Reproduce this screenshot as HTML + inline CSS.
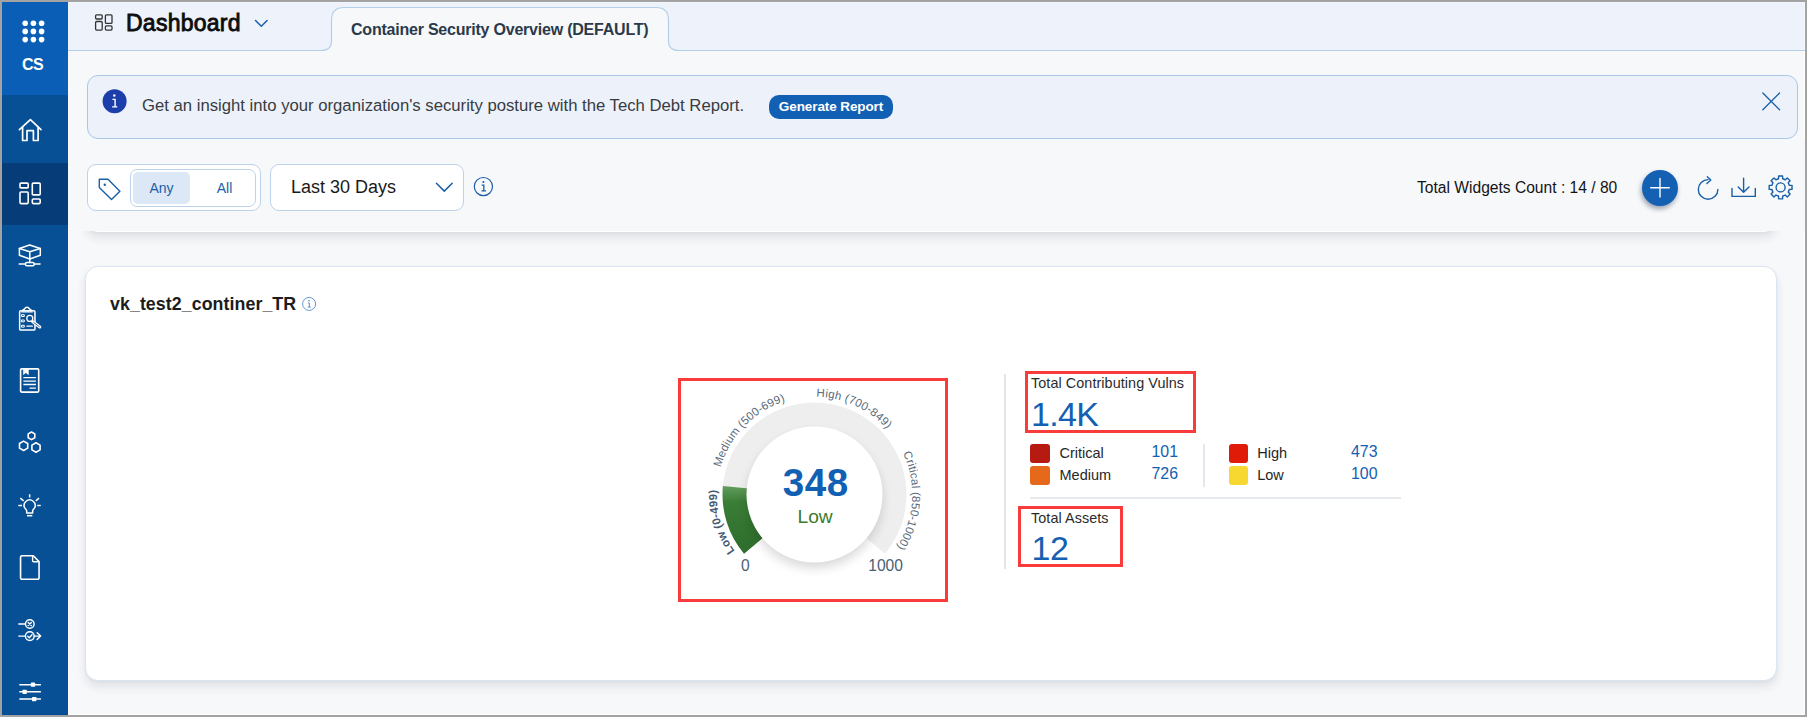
<!DOCTYPE html>
<html lang="en">
<head>
<meta charset="utf-8">
<title>Dashboard - Container Security Overview</title>
<style>
*{box-sizing:border-box;margin:0;padding:0}
html,body{width:1807px;height:717px;overflow:hidden;background:#a3a3a3;font-family:"Liberation Sans",Arial,sans-serif;}
#app{position:absolute;left:2px;top:2px;width:1803px;height:713px;background:#f7f8fa;overflow:hidden;box-shadow:inset -1px -1px 0 #fff}
.abs{position:absolute}
/* sidebar */
#side{position:absolute;left:0;top:0;width:66px;height:713px;background:#075096;box-shadow:inset 1px -1px 0 #034994}
#side .logo{position:absolute;left:0;top:0;width:66px;height:93px;background:#0b5eb5}
#side .active{position:absolute;left:0;top:161px;width:66px;height:62px;background:#063c78}
#side svg{position:absolute;overflow:visible}
#side .cs{position:absolute;left:0;width:61px;top:52.700px;text-align:center;color:#fff;font-weight:bold;font-size:16px;line-height:20px;letter-spacing:-.6px}
/* header */
#head{position:absolute;left:66px;top:0;width:1737px;height:49px;background:#edf2fb;box-shadow:inset 0 1px 0 #f2f7ff,inset -1px 0 0 #f6faff}
#title{position:absolute;left:124px;top:6px;font-size:23px;font-weight:normal;-webkit-text-stroke:.85px #0d0d0d;color:#0d0d0d;line-height:30px;white-space:nowrap;letter-spacing:.25px}
#tabtxt{position:absolute;left:349px;top:16.600px;font-size:16px;font-weight:bold;color:#2b3a4a;white-space:nowrap;line-height:22px;letter-spacing:-.22px}
/* banner */
#banner{position:absolute;left:85px;top:73px;width:1711px;height:64px;background:#edf2fa;border:1px solid #a9c7e8;border-radius:11px}
#banner .txt{position:absolute;left:54px;top:19.4px;font-size:16.7px;color:#383c42;white-space:nowrap;line-height:22px}
#gen{position:absolute;left:767px;top:93px;width:124px;height:24px;background:#1260b4;border-radius:10px;color:#fff;font-size:13.5px;font-weight:bold;text-align:center;line-height:24.500px;letter-spacing:-.1px;white-space:nowrap}
/* toolbar */
.box{position:absolute;background:#fff;border:1px solid #bcd3eb;border-radius:9px}
#tw{position:absolute;left:1415px;top:176px;font-size:15.6px;color:#141414;white-space:nowrap;line-height:20px}
#plus{position:absolute;left:1640px;top:168px;width:36px;height:36px;border-radius:50%;background:#1460b2;box-shadow:-1px 3px 5px rgba(0,25,60,.38)}
/* cards */
.card{position:absolute;background:#fff;border:1px solid #d9e5f3;border-radius:13px;box-shadow:0 6px 10px rgba(30,40,60,.10),0 1px 3px rgba(30,40,60,.04)}
#wtitle{position:absolute;left:108px;top:290px;font-size:17.8px;letter-spacing:.07px;font-weight:bold;color:#1c1c1c;white-space:nowrap;line-height:24px}
.lbl{position:absolute;font-size:14.4px;letter-spacing:.07px;color:#2b2b2b;white-space:nowrap;line-height:16px}
.big{position:absolute;font-size:34px;color:#1460b2;white-space:nowrap;line-height:36px}
.sw{position:absolute;width:20px;height:19px;border-radius:3px}
.sl{position:absolute;font-size:14.5px;color:#262626;white-space:nowrap;line-height:18px}
.sv{position:absolute;font-size:15.9px;color:#1460b2;white-space:nowrap;line-height:18px;text-align:right;width:40px}
.red{position:absolute;border:3px solid #fa3b3c}
</style>
</head>
<body>
<div id="app">

<!-- header -->
<div id="head"></div>
<svg class="abs" style="left:66px;top:0" width="1737" height="52" viewBox="68 2 1737 52" fill="none">
  <path d="M321 50.500 Q331.500 50.500 331.500 41 V20 Q331.500 7.500 344 7.500 H656 Q668.500 7.500 668.500 20 V41 Q668.500 50.500 679 50.500 V52 H321 Z" fill="#f7f8fa" stroke="none"/>
  <path d="M68 50.500 H321 Q331.500 50.500 331.500 41 V20 Q331.500 7.500 344 7.500 H656 Q668.500 7.500 668.500 20 V41 Q668.500 50.500 679 50.500 H1805" stroke="#b4cfea" stroke-width="1.200"/>
  <!-- dashboard glyph -->
  <g stroke="#333" stroke-width="1.300">
    <rect x="95.600" y="14.800" width="6.600" height="4.200" rx="1"/><rect x="95.600" y="21.500" width="6.600" height="8.600" rx="1"/>
    <rect x="105.400" y="14.800" width="6.600" height="8.600" rx="1"/><rect x="105.400" y="25.900" width="6.600" height="4.200" rx="1"/>
  </g>
  <path d="M255.500 20.500 L261.300 26.300 L267.100 20.500" stroke="#1a5fa8" stroke-width="1.500" stroke-linecap="round" stroke-linejoin="round"/>
</svg>
<div id="tabtxt">Container Security Overview (DEFAULT)</div>
<div id="title">Dashboard</div>

<!-- banner -->
<div id="banner"><div class="txt">Get an insight into your organization's security posture with the Tech Debt Report.</div></div>
<div id="gen">Generate Report</div>

<!-- cards -->
<div class="card" style="left:83px;top:180px;width:1692px;height:50px;border-color:#fff"></div>
<div class="abs" style="left:66px;top:138px;width:1737px;height:91px;background:#f7f8fa"></div>
<div class="card" style="left:83px;top:264px;width:1692px;height:415px"></div>
<div id="wtitle">vk_test2_continer_TR</div>
<svg class="abs" style="left:299px;top:294px" width="16" height="16" viewBox="0 0 16 16" fill="none" stroke="#4a86c5" stroke-width=".850"><circle cx="8.100" cy="7.900" r="6.500"/><path d="M6.900 7 H8.300 V11 M6.700 11.100 H9.900" stroke-width=".900"/><circle cx="8" cy="4.700" r=".800" fill="#3f7fc0" stroke="none"/></svg>


<!-- gauge -->
<svg class="abs" style="left:676px;top:376px" width="280" height="230" viewBox="678 378 280 230" font-family="Liberation Sans, Arial, sans-serif">
  <defs>
    <path id="gc" d="M814.50 592.30 A97.8 97.8 0 0 1 814.50 396.70 A97.8 97.8 0 0 1 814.50 592.30"/>
    <linearGradient id="gg" gradientUnits="userSpaceOnUse" x1="0" y1="483" x2="0" y2="552"><stop offset="0" stop-color="#6aa364"/><stop offset=".28" stop-color="#3a7d36"/><stop offset="1" stop-color="#2e6d2c"/></linearGradient>
    <filter id="gs" x="-30%" y="-30%" width="160%" height="160%"><feGaussianBlur stdDeviation="6"/></filter>
  </defs>
  <path d="M744.02 553.64 A92.0 92.0 0 1 1 884.98 553.64 L865.06 536.92 A66.0 66.0 0 1 0 763.94 536.92 Z" fill="#eeeeee"/>
  <path d="M744.02 553.64 A92.0 92.0 0 0 1 722.89 486.00 L748.78 488.40 A66.0 66.0 0 0 0 763.94 536.92 Z" fill="url(#gg)"/>
  <circle cx="814.5" cy="500.5" r="67.0" fill="#000" opacity=".16" filter="url(#gs)"/>
  <circle cx="814.5" cy="494.5" r="68.0" fill="#fff"/>
  <text style="font-size:11.5px;font-weight:bold;fill:#455a72"><textPath href="#gc" startOffset="93.0" textLength="64.9" lengthAdjust="spacing">Low (0-499)</textPath></text>
  <text style="font-size:11.5px;fill:#5b6b7b"><textPath href="#gc" startOffset="180.6" textLength="96.3" lengthAdjust="spacing">Medium (500-699)</textPath></text>
  <text style="font-size:11.5px;fill:#5b6b7b"><textPath href="#gc" startOffset="308.6" textLength="79.9" lengthAdjust="spacing">High (700-849)</textPath></text>
  <text style="font-size:11.5px;fill:#5b6b7b"><textPath href="#gc" startOffset="417.2" textLength="98.3" lengthAdjust="spacing">Critical (850-1000)</textPath></text>
  <text x="815.7" y="495.6" text-anchor="middle" style="font-size:38.6px;font-weight:bold;fill:#1260b4;letter-spacing:.5px">348</text>
  <text x="815.1" y="522.8" text-anchor="middle" style="font-size:19.2px;fill:#3c7a2b">Low</text>
  <text x="745.4" y="571.2" text-anchor="middle" style="font-size:15.6px;fill:#4a5f75">0</text>
  <text x="885.6" y="571.2" text-anchor="middle" style="font-size:15.6px;fill:#4a5f75">1000</text>
</svg>
<div class="red" style="left:676px;top:376px;width:270px;height:224px"></div>

<!-- stats -->
<div class="abs" style="left:1002.300px;top:372px;width:2px;height:195px;background:#e0e6ea"></div>
<div class="lbl" style="left:1029px;top:373px">Total Contributing Vulns</div>
<div class="big" style="left:1029px;top:394px;letter-spacing:-.7px">1.4K</div>
<div class="red" style="left:1023px;top:369px;width:171px;height:62px"></div>
<div class="sw" style="left:1028px;top:442px;background:#b71a10"></div>
<div class="sw" style="left:1028px;top:464px;background:#e6691b"></div>
<div class="sw" style="left:1227px;top:442px;width:19px;background:#e01c08"></div>
<div class="sw" style="left:1227px;top:464px;width:19px;background:#f6d831"></div>
<div class="sl" style="left:1057.500px;top:442px">Critical</div>
<div class="sl" style="left:1057.500px;top:464px">Medium</div>
<div class="sl" style="left:1255.200px;top:442px">High</div>
<div class="sl" style="left:1255.200px;top:464px">Low</div>
<div class="sv" style="left:1136px;top:440.600px">101</div>
<div class="sv" style="left:1136px;top:462.600px">726</div>
<div class="sv" style="left:1335.500px;top:440.600px">473</div>
<div class="sv" style="left:1335.500px;top:462.600px">100</div>
<div class="abs" style="left:1201.300px;top:442px;width:2px;height:43px;background:#e2e8ed"></div>
<div class="abs" style="left:1028px;top:495.300px;width:371px;height:1.600px;background:#e6eaee"></div>
<div class="lbl" style="left:1029px;top:508px">Total Assets</div>
<div class="big" style="left:1029.500px;top:528.200px;letter-spacing:-.5px">12</div>
<div class="red" style="left:1016px;top:504px;width:105px;height:61px"></div>

<!-- toolbar -->
<div class="box" style="left:85px;top:162px;width:174px;height:47px"></div>
<div class="box" style="left:128px;top:167px;width:126px;height:38px;border-radius:7px"></div>
<div class="abs" style="left:131px;top:170px;width:57px;height:32px;background:#dce8f5;border-radius:5px"></div>
<div class="abs" style="left:131px;top:170px;width:57px;height:32px;line-height:32px;text-align:center;font-size:14px;color:#1a5fa8">Any</div>
<div class="abs" style="left:194px;top:170px;width:57px;height:32px;line-height:32px;text-align:center;font-size:14px;color:#1a5fa8">All</div>
<div class="box" style="left:268px;top:162px;width:194px;height:47px"></div>
<div class="abs" style="left:289px;top:173px;font-size:18px;line-height:24px;color:#1a1a1a;white-space:nowrap">Last 30 Days</div>
<div id="tw">Total Widgets Count : 14 / 80</div>
<div id="plus"></div>


<!-- icons overlay -->
<svg class="abs" style="left:0;top:0" width="1803" height="240" viewBox="2 2 1803 240" fill="none" stroke="#1a5fa8" stroke-linecap="round" stroke-linejoin="round">
  <!-- banner info -->
  <circle cx="114.600" cy="101.300" r="12" fill="#1b3eaa" stroke="none"/>
  <path d="M112.400 99.400 H115.100 V106.700 M112.100 106.900 H117.300" stroke="#fff" stroke-width="1.400" stroke-linecap="butt" stroke-linejoin="miter"/>
  <circle cx="114.300" cy="95.600" r="1.250" fill="#fff" stroke="none"/>
  <!-- close -->
  <path d="M1762.800 93 L1779.600 109.800 M1779.600 93 L1762.800 109.800" stroke-width="1.300"/>
  <!-- tag -->
  <path d="M99.300 179.300 H108 L119.900 191.200 L111.500 199.600 L99.300 187.500 Z" stroke-width="1.400"/>
  <circle cx="104.800" cy="184.800" r="1.200" fill="#1a5fa8" stroke="none"/>
  <!-- select chevron -->
  <path d="M436.400 183.200 L444.300 191.100 L452.200 183.200" stroke-width="1.500"/>
  <!-- info -->
  <circle cx="483.400" cy="186.600" r="9.100" stroke-width="1.200"/>
  <path d="M481.700 185.200 H483.800 V190.700 M481.500 190.900 H486" stroke-width="1.300" stroke-linecap="butt" stroke-linejoin="miter"/>
  <circle cx="483.400" cy="182" r="1.050" fill="#1a5fa8" stroke="none"/>
  <!-- refresh -->
  <path d="M1708.100 179.600 A9.800 9.800 0 1 0 1717.900 189.400" stroke-width="1.400"/>
  <path d="M1707.300 176.700 L1710.800 180.100 L1706.900 183.600" stroke-width="1.400"/>
  <!-- download -->
  <path d="M1743.600 178.200 V192 M1738.200 186.900 L1743.600 192.300 L1749 186.900" stroke-width="1.400"/>
  <path d="M1732 188.500 V196.400 H1755.300 V188.500" stroke-width="1.400" stroke-linejoin="miter"/>
  <!-- gear -->
  <path d="M1778.52 178.75 L1778.61 175.97 L1782.59 175.97 L1782.68 178.75 A8.90 8.90 0 0 1 1785.25 179.81 L1785.25 179.81 L1787.27 177.91 L1790.09 180.73 L1788.19 182.75 A8.90 8.90 0 0 1 1789.25 185.32 L1789.25 185.32 L1792.03 185.41 L1792.03 189.39 L1789.25 189.48 A8.90 8.90 0 0 1 1788.19 192.05 L1788.19 192.05 L1790.09 194.07 L1787.27 196.89 L1785.25 194.99 A8.90 8.90 0 0 1 1782.68 196.05 L1782.68 196.05 L1782.59 198.83 L1778.61 198.83 L1778.52 196.05 A8.90 8.90 0 0 1 1775.95 194.99 L1775.95 194.99 L1773.93 196.89 L1771.11 194.07 L1773.01 192.05 A8.90 8.90 0 0 1 1771.95 189.48 L1771.95 189.48 L1769.17 189.39 L1769.17 185.41 L1771.95 185.32 A8.90 8.90 0 0 1 1773.01 182.75 L1773.01 182.75 L1771.11 180.73 L1773.93 177.91 L1775.95 179.81 A8.90 8.90 0 0 1 1778.52 178.75 Z" stroke-width="1.400"/>
  <circle cx="1780.600" cy="187.400" r="4.500" stroke-width="1.400"/>
</svg>
<svg class="abs" style="left:1640px;top:168px" width="36" height="36" viewBox="0 0 36 36" fill="none" stroke="#fff" stroke-width="1.400" stroke-linecap="round"><path d="M8.700 17.800 H27.300 M18 8.500 V27.100"/></svg>

<!-- sidebar -->
<div id="side">
  <div class="logo"></div>
  <div class="active"></div>
  <svg style="left:20px;top:18px" width="23" height="23" viewBox="0 0 23 23" fill="#fff">
    <circle cx="3.2" cy="3.2" r="2.8"/><circle cx="11.4" cy="3.2" r="2.8"/><circle cx="19.6" cy="3.2" r="2.8"/>
    <circle cx="3.2" cy="11.4" r="2.8"/><circle cx="11.4" cy="11.4" r="2.8"/><circle cx="19.6" cy="11.4" r="2.8"/>
    <circle cx="3.2" cy="19.6" r="2.8"/><circle cx="11.4" cy="19.6" r="2.8"/><circle cx="19.6" cy="19.6" r="2.8"/>
  </svg>
  <div class="cs">CS</div>
  <!-- home -->
  <svg style="left:16px;top:116px" width="25" height="25" viewBox="0 0 25 25" fill="none" stroke="#fff" stroke-width="1.700" stroke-linejoin="round" stroke-linecap="round">
    <path d="M1.400 11.700 L12.400 1.700 L23 11.700"/><path d="M4.600 9.300 V22.500 H9 V12.700 H15.400 V22.500 H20.100 V9.300"/>
  </svg>
  <!-- dashboard -->
  <svg style="left:17px;top:180px" width="24" height="24" viewBox="0 0 24 24" fill="none" stroke="#fff" stroke-width="1.600" stroke-linejoin="round">
    <rect x="1" y="1.100" width="8.200" height="4.800" rx="1"/><rect x="1" y="10" width="8.200" height="11.600" rx="1"/>
    <rect x="13.300" y="1.100" width="7.900" height="11.800" rx="1"/><rect x="13.300" y="17" width="7.900" height="4.600" rx="1"/>
  </svg>
  <!-- network cube -->
  <svg style="left:16px;top:242px" width="24" height="24" viewBox="0 0 24 24" fill="none" stroke="#fff" stroke-width="1.500" stroke-linejoin="round" stroke-linecap="round">
    <path d="M11.600 1 L22.300 4.500 V11.300 L11.800 15 L1.400 11.300 V4.500 Z"/><path d="M1.400 4.500 L11.800 7.800 L22.300 4.500 M11.800 7.800 V18.500"/>
    <path d="M0.700 20.100 H7.500 M16.100 20.100 H22.600" stroke-linecap="butt"/><rect x="7.500" y="18.500" width="8.600" height="3.200" rx="1.200"/>
  </svg>
  <!-- clipboard search -->
  <svg style="left:16px;top:304px" width="25" height="26" viewBox="0 0 25 26" fill="none" stroke="#fff" stroke-width="1.500" stroke-linejoin="round" stroke-linecap="round">
    <rect x="1.650" y="4.700" width="15.300" height="19.400" rx="1.200"/>
    <path d="M4.200 4.600 C5.500 4.300 6 3.500 6.600 2.800 C7.800 0.600 10.200 0.600 11.400 2.800 C12 3.500 12.500 4.300 13.800 4.600" />
    <path d="M3.800 5.900 H14.200" stroke-width="1.300"/>
    <circle cx="11.800" cy="12.400" r="3" stroke-width="1.300" fill="#075096"/>
    <path d="M14.800 15.800 L21.800 21" stroke-width="3" stroke-linecap="round"/><path d="M15.600 16.400 L21.400 20.700" stroke="#075096" stroke-width=".800"/>
    <path d="M3.900 8.700 h2.400 v1.800 h-2.400z M3.900 14 h2.400 v1.800 h-2.400z M3.900 19.300 h2.400 v1.800 h-2.400z" stroke-width="1"/>
    <path d="M8.900 20.200 H14.400" stroke-width="1.300"/>
  </svg>
  <!-- document -->
  <svg style="left:17px;top:365px" width="22" height="27" viewBox="0 0 22 27" fill="none" stroke="#fff" stroke-width="1.600" stroke-linejoin="round">
    <rect x="1.600" y="1.900" width="18.100" height="23.200" rx="1"/>
    <path d="M4.300 2 V7.700 L6.900 5.700 L9.500 7.700 V2 Z" fill="#fff" stroke-width="0.400"/>
    <path d="M4.400 10.600 H16.900 M4.400 14.100 H16.900 M4.400 17.500 H16.900 M10.500 21.200 H16.900" stroke-width="1.300"/>
  </svg>
  <!-- hexagons -->
  <svg style="left:16px;top:429px" width="24" height="22" viewBox="0 0 24 22" fill="none" stroke="#fff" stroke-width="1.600" stroke-linejoin="round">
    <path d="M13.500 1 L16.800 2.900 V6.700 L13.500 8.600 L10.200 6.700 V2.900 Z"/>
    <path d="M5.600 10.100 L9.700 12.450 V17.150 L5.600 19.500 L1.500 17.150 V12.450 Z"/>
    <path d="M18 11.800 L22.100 14.150 V18.850 L18 21.200 L13.900 18.850 V14.150 Z"/>
  </svg>
  <!-- bulb -->
  <svg style="left:16px;top:491px" width="24" height="24" viewBox="0 0 24 24" fill="none" stroke="#fff" stroke-width="1.500" stroke-linejoin="round" stroke-linecap="butt">
    <path d="M8.650 19.950 V17.700 C8.650 16.800 7.600 16.300 6.900 15.200 A5.500 5.500 0 1 1 16.400 15.200 C15.700 16.300 14.650 16.800 14.650 17.700 V19.950 Z"/>
    <path d="M9 22.700 H14.300"/>
    <path d="M11.650 1.200 V4.600 M2.300 5.200 L5.700 7.800 M21 5.200 L17.800 7.800 M0.400 12.600 H4 M19.300 12.600 H22.700"/>
  </svg>
  <!-- file -->
  <svg style="left:17px;top:553px" width="22" height="26" viewBox="0 0 22 26" fill="none" stroke="#fff" stroke-width="1.600" stroke-linejoin="round" stroke-linecap="round">
    <path d="M3 0.800 H14.300 L20.050 6.600 V22.800 a1.500 1.500 0 0 1 -1.500 1.500 H3.050 a1.500 1.500 0 0 1 -1.500 -1.500 V2.300 a1.500 1.500 0 0 1 1.450 -1.500 Z"/>
    <path d="M13.600 1.200 V5.800 a1 1 0 0 0 1 1 H19.600" stroke-width="1.400"/>
  </svg>
  <!-- flow -->
  <svg style="left:15.700px;top:617.100px" width="24" height="23" viewBox="0 0 24 23" fill="none" stroke="#fff" stroke-width="1.400" stroke-linejoin="round" stroke-linecap="round">
    <circle cx="11.800" cy="5" r="4.300"/><path d="M10.200 3.400 L13.400 6.600 M13.400 3.400 L10.200 6.600"/><path d="M0.800 5 H7.400"/>
    <circle cx="11.800" cy="17.100" r="4.400"/><path d="M9.700 17.200 L11.300 18.700 L14 15.700"/><path d="M0.800 17.100 H7.300 M16.300 17.100 H22.600 M19.100 13.700 L22.700 17.100 L19.100 20.500"/>
  </svg>
  <!-- sliders -->
  <svg style="left:17px;top:679px" width="23" height="22" viewBox="0 0 23 22" fill="none" stroke="#fff" stroke-width="1.500" stroke-linecap="butt">
    <path d="M0.300 3.700 H21.900 M0.300 10.850 H21.900 M0.300 18.050 H21.900"/>
    <rect x="11.900" y="1.600" width="4.200" height="4.200" rx=".6" fill="#fff" stroke="none"/><rect x="3.550" y="8.750" width="4.200" height="4.200" rx=".6" fill="#fff" stroke="none"/><rect x="13" y="15.950" width="4.400" height="4.200" rx=".6" fill="#fff" stroke="none"/>
  </svg>
</div>

</div>
</body>
</html>
